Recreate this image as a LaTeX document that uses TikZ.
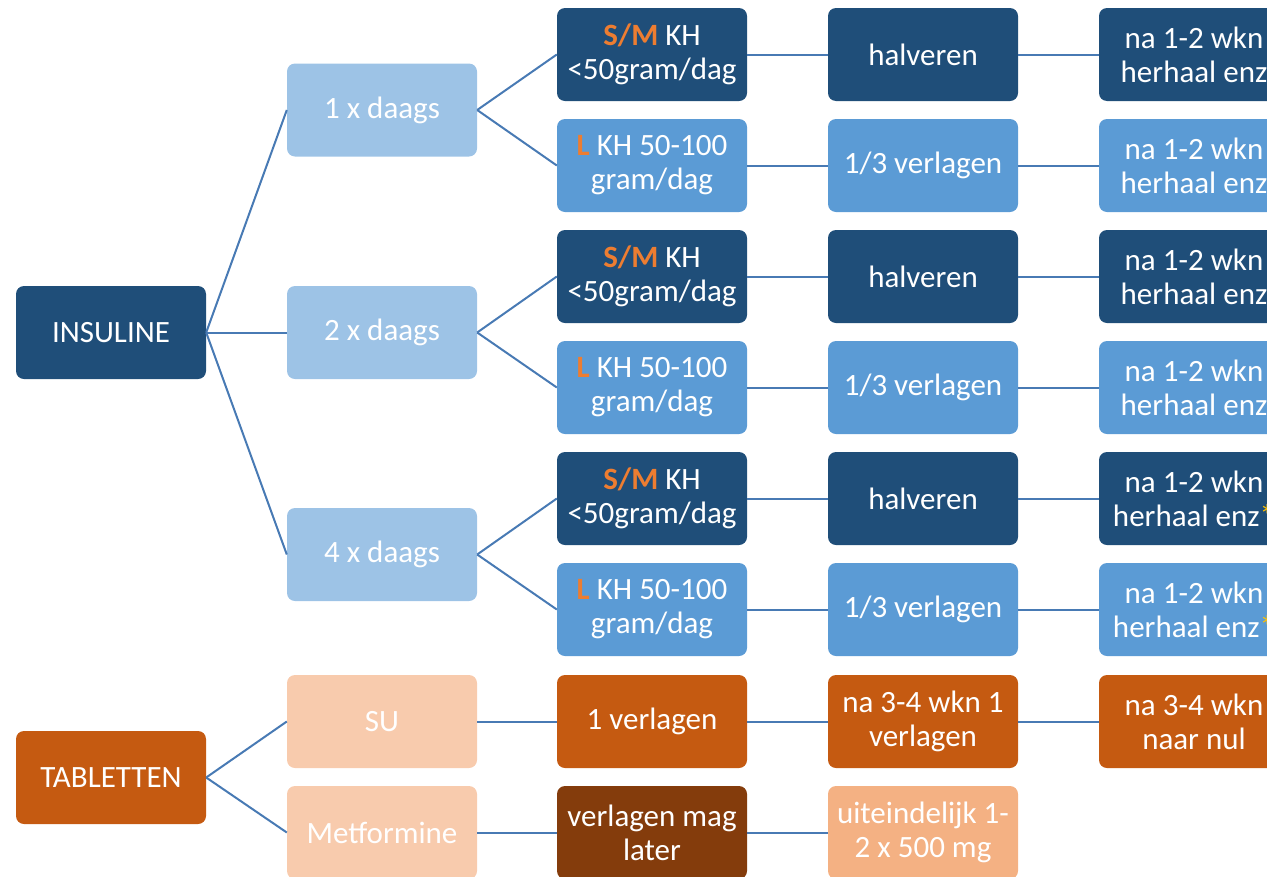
\documentclass[tikz,border=0pt]{standalone}
\usepackage{fontspec}
\setmainfont{Carlito}
\definecolor{darkblue}{RGB}{31,78,121}
\definecolor{midblue}{RGB}{91,155,213}
\definecolor{lightblue}{RGB}{157,195,230}
\definecolor{darkorange}{RGB}{197,90,17}
\definecolor{lightorange}{RGB}{248,203,173}
\definecolor{peach}{RGB}{244,177,131}
\definecolor{darkbrown}{RGB}{132,60,12}
\definecolor{hilite}{RGB}{237,125,49}
\definecolor{staryellow}{RGB}{255,192,0}
\definecolor{linkblue}{RGB}{72,122,180}
\newcommand{\SMtag}{\textbf{\textcolor{hilite}{S/M}}}
\newcommand{\Ltag}{\textbf{\textcolor{hilite}{L}}}
\newcommand{\startag}{\textcolor{staryellow}{*}}
\tikzset{
  box/.style={rectangle, rounded corners=8pt, minimum width=190pt, minimum height=93pt,
    inner sep=0pt, align=center, text=white, font=\fontsize{31}{34}\selectfont},
  link/.style={draw=linkblue, line width=2pt}
}
\begin{document}
\begin{tikzpicture}[x=1pt,y=-1pt]
\useasboundingbox (0,0) rectangle (1267,876);
\clip (0,0) rectangle (1267,876);
\node[box,fill=darkblue] (ins) at (111,332.5) {INSULINE};
\node[box,fill=darkorange] (tab) at (111,777.5) {TABLETTEN};
\foreach \n/\y/\t in {d1/110/1 x daags, d2/332.5/2 x daags, d4/554.5/4 x daags}
  {\node[box,fill=lightblue] (\n) at (382,\y) {\t}; \draw[link] (ins.east) -- (\n.west);}

\foreach \r/\c/\ta/\tb/\tc in {
  0/darkblue/{\SMtag\ KH\\<50gram/dag}/halveren/{na 1-2 wkn\\herhaal enz},
  1/midblue/{\Ltag\ KH 50-100\\gram/dag}/{1/3 verlagen}/{na 1-2 wkn\\herhaal enz},
  2/darkblue/{\SMtag\ KH\\<50gram/dag}/halveren/{na 1-2 wkn\\herhaal enz},
  3/midblue/{\Ltag\ KH 50-100\\gram/dag}/{1/3 verlagen}/{na 1-2 wkn\\herhaal enz},
  4/darkblue/{\SMtag\ KH\\<50gram/dag}/halveren/{na 1-2 wkn\\herhaal enz\startag},
  5/midblue/{\Ltag\ KH 50-100\\gram/dag}/{1/3 verlagen}/{na 1-2 wkn\\herhaal enz\startag}} {
  \node[box,fill=\c] (a\r) at (652,{54.5+111*\r}) {\ta};
  \node[box,fill=\c] (b\r) at (923,{54.5+111*\r}) {\tb};
  \node[box,fill=\c] (c\r) at (1194,{54.5+111*\r}) {\tc};
  \draw[link] (a\r) -- (b\r);
  \draw[link] (b\r) -- (c\r);
}
\foreach \n/\i/\j in {d1/0/1, d2/2/3, d4/4/5}
  {\draw[link] (\n.east) -- (a\i.west); \draw[link] (\n.east) -- (a\j.west);}

\node[box,fill=lightorange] (su) at (382,721.5) {SU};
\node[box,fill=lightorange] (met) at (382,832.5) {Metformine};
\node[box,fill=darkorange] (a6) at (652,721.5) {1 verlagen};
\node[box,fill=darkorange] (b6) at (923,721.5) {na 3-4 wkn 1\\verlagen};
\node[box,fill=darkorange] (c6) at (1194,721.5) {na 3-4 wkn\\naar nul};
\node[box,fill=darkbrown] (a7) at (652,832.5) {verlagen mag\\later};
\node[box,fill=peach] (b7) at (923,832.5) {uiteindelijk 1-\\2 x 500 mg};
\draw[link] (tab.east) -- (su.west);
\draw[link] (tab.east) -- (met.west);
\draw[link] (su) -- (a6);
\draw[link] (a6) -- (b6);
\draw[link] (b6) -- (c6);
\draw[link] (met) -- (a7);
\draw[link] (a7) -- (b7);
\end{tikzpicture}
\end{document}
